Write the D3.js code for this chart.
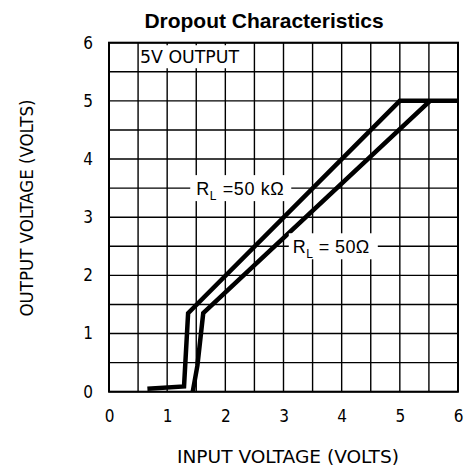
<!DOCTYPE html>
<html>
<head>
<meta charset="utf-8">
<script src="https://cdn.jsdelivr.net/npm/d3@7"></script>
<style>
  body { margin: 0; background: #fff; }
</style>
</head>
<body>
<div id="chart"></div>
<script>
// values
var xTicks = [0, 1, 2, 3, 4, 5, 6];
var yTicks = [0, 1, 2, 3, 4, 5, 6];
var gridTicks = [0, 0.5, 1, 1.5, 2, 2.5, 3, 3.5, 4, 4.5, 5, 5.5, 6];

var rl50k = [[0.66, 0.05], [1.29, 0.09], [1.36, 1.35], [5.0, 5.0], [5.5, 5.0]];
var rl50 = [[1.44, 0.0], [1.52, 0.45], [1.62, 1.35], [5.52, 5.0], [6.0, 5.0]];

var titleText = "Dropout Characteristics";
var xTitle = "INPUT VOLTAGE (VOLTS)";
var yTitle = "OUTPUT VOLTAGE (VOLTS)";

var narrow = "Liberation Sans Narrow, DejaVu Sans Condensed, sans-serif";

var margin = {top: 42.7, left: 109},
    w = 349,
    h = 349;

var svg = d3.select("#chart")
  .append("svg")
  .attr("width", 464)
  .attr("height", 467);

var g = svg.append("g")
  .attr("transform", "translate(" + margin.left + "," + margin.top + ")");

var xScale = d3.scaleLinear().domain([0, 6]).range([0, w]);
var yScale = d3.scaleLinear().domain([0, 6]).range([h, 0]);

// grid
g.selectAll("line.vgrid")
  .data(gridTicks)
  .enter().append("line")
  .attr("class", "vgrid")
  .attr("x1", function(d) { return xScale(d); })
  .attr("x2", function(d) { return xScale(d); })
  .attr("y1", 0)
  .attr("y2", h)
  .attr("stroke", "#000")
  .attr("stroke-width", 1.4);

g.selectAll("line.hgrid")
  .data(gridTicks)
  .enter().append("line")
  .attr("class", "hgrid")
  .attr("y1", function(d) { return yScale(d); })
  .attr("y2", function(d) { return yScale(d); })
  .attr("x1", 0)
  .attr("x2", w)
  .attr("stroke", "#000")
  .attr("stroke-width", 1.4);

g.append("rect")
  .attr("width", w)
  .attr("height", h)
  .attr("fill", "none")
  .attr("stroke", "#000")
  .attr("stroke-width", 2);

// axes (labels only)
var xAxis = g.append("g")
  .attr("transform", "translate(0," + h + ")")
  .call(d3.axisBottom(xScale).tickValues(xTicks).tickSize(0).tickPadding(18).tickFormat(d3.format("d")));
xAxis.select(".domain").remove();

var yAxis = g.append("g")
  .call(d3.axisLeft(yScale).tickValues(yTicks).tickSize(0).tickPadding(16).tickFormat(d3.format("d")));
yAxis.select(".domain").remove();

g.selectAll(".tick text")
  .attr("font-family", narrow)
  .attr("font-size", 17)
  .attr("fill", "#000");

// curves
var line = d3.line()
  .x(function(d) { return xScale(d[0]); })
  .y(function(d) { return yScale(d[1]); });

[rl50k, rl50].forEach(function(s) {
  g.append("path")
    .datum(s)
    .attr("d", line)
    .attr("fill", "none")
    .attr("stroke", "#000")
    .attr("stroke-width", 4.5)
    .attr("stroke-linejoin", "miter");
});

// labels with white boxes
function boxLabel(xv, yv, box, build) {
  var lg = g.append("g")
    .attr("transform", "translate(" + xScale(xv) + "," + yScale(yv) + ")");
  lg.append("rect")
    .attr("x", box[0]).attr("y", box[1])
    .attr("width", box[2]).attr("height", box[3])
    .attr("fill", "#fff");
  build(lg);
}

boxLabel(0.5, 5.75, [1, -12, 103, 23], function(lg) {
  lg.append("text")
    .attr("x", 2)
    .attr("y", 6)
    .attr("font-family", narrow)
    .attr("font-size", 17)
    .attr("textLength", 99)
    .attr("lengthAdjust", "spacingAndGlyphs")
    .text("5V OUTPUT");
});

function rlText(lg, rest, spacing) {
  var t = lg.append("text")
    .attr("x", 0)
    .attr("y", 7)
    .attr("font-family", "Liberation Sans, Arial, sans-serif")
    .attr("font-size", 18)
    .attr("letter-spacing", spacing);
  t.append("tspan").text("R");
  t.append("tspan").attr("font-size", 12).attr("dy", 5).text("L");
  t.append("tspan").attr("dy", -5).text(rest);
}

boxLabel(1.5, 3.5, [-6, -13, 101, 26], function(lg) {
  rlText(lg, " =50 k\u03A9", 0.6);
});

boxLabel(3.16, 2.5, [-4, -13, 89, 26], function(lg) {
  rlText(lg, " = 50\u03A9", 0.4);
});

// titles
svg.append("text")
  .attr("x", 264)
  .attr("y", 28)
  .attr("text-anchor", "middle")
  .attr("font-family", "Liberation Sans, Arial, sans-serif")
  .attr("font-weight", "bold")
  .attr("font-size", 21)
  .text(titleText);

svg.append("text")
  .attr("x", 288)
  .attr("y", 463)
  .attr("text-anchor", "middle")
  .attr("font-family", narrow)
  .attr("font-size", 18)
  .attr("textLength", 222)
  .attr("lengthAdjust", "spacingAndGlyphs")
  .text(xTitle);

svg.append("text")
  .attr("transform", "translate(33,208) rotate(-90)")
  .attr("text-anchor", "middle")
  .attr("font-family", narrow)
  .attr("font-size", 18)
  .attr("textLength", 217)
  .attr("lengthAdjust", "spacingAndGlyphs")
  .text(yTitle);
</script>
</body>
</html>
